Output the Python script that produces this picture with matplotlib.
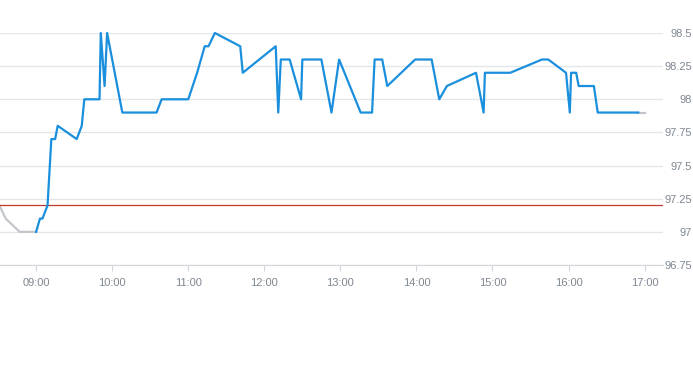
import numpy as np
from matplotlib import pyplot as plt

plt.rcParams["font.family"] = ["Liberation Sans", "DejaVu Sans"]

# times as "HH:MM", prices
pre_times = ["08:31", "08:36", "08:47", "09:00"]
pre_vals = [97.2, 97.1, 97.0, 97.0]

times = ["09:00", "09:03", "09:05", "09:09", "09:12", "09:15", "09:17", "09:32",
         "09:36", "09:38", "09:50", "09:51", "09:54", "09:56", "10:08", "10:35",
         "10:39", "11:00", "11:07", "11:13", "11:16", "11:21", "11:41", "11:43",
         "12:09", "12:11", "12:13", "12:20", "12:29", "12:30", "12:45", "12:53",
         "12:59", "13:16", "13:25", "13:27", "13:33", "13:37", "13:59", "14:12",
         "14:18", "14:24", "14:47", "14:53", "14:54", "15:14", "15:39", "15:44",
         "15:58", "16:01", "16:02", "16:06", "16:08", "16:20", "16:23", "16:55"]
vals = [97.0, 97.1, 97.1, 97.2, 97.7, 97.7, 97.8, 97.7,
        97.8, 98.0, 98.0, 98.5, 98.1, 98.5, 97.9, 97.9,
        98.0, 98.0, 98.2, 98.4, 98.4, 98.5, 98.4, 98.2,
        98.4, 97.9, 98.3, 98.3, 98.0, 98.3, 98.3, 97.9,
        98.3, 97.9, 97.9, 98.3, 98.3, 98.1, 98.3, 98.3,
        98.0, 98.1, 98.2, 97.9, 98.2, 98.2, 98.3, 98.3,
        98.2, 97.9, 98.2, 98.2, 98.1, 98.1, 97.9, 97.9]

post_times = ["16:55", "17:00"]
post_vals = [97.9, 97.9]

prev_close = 97.2

y_ticks = [96.75, 97, 97.25, 97.5, 97.75, 98, 98.25, 98.5]
y_labels = ["96.75", "97", "97.25", "97.5", "97.75", "98", "98.25", "98.5"]
x_ticks = ["09:00", "10:00", "11:00", "12:00", "13:00", "14:00", "15:00", "16:00", "17:00"]


def to_min(t):
    h, m = t.split(":")
    return int(h) * 60 + int(m)


fig = plt.figure(figsize=(6.93, 3.65), dpi=100)
ax = fig.add_axes([0, 100 / 365, 663 / 693, 232 / 365])

grid_c = "#e4e6e9"
axis_c = "#d3d6db"
text_c = "#7f8791"

ax.plot([to_min(t) for t in pre_times], pre_vals, color="#c3c7cc", lw=1.6, clip_on=False)
ax.plot([to_min(t) for t in post_times], post_vals, color="#c3c7cc", lw=1.6, clip_on=False)
ax.plot([to_min(t) for t in times], vals, color="#1a8fdd", lw=1.6, clip_on=False, zorder=3)
ax.axhline(prev_close, color="#c0392b", lw=0.9, zorder=2)

ax.set_xlim(511.5, 1034.5)
ax.set_ylim(96.75, 98.5)

ax.set_yticks(y_ticks)
ax.set_yticklabels(y_labels)
ax.yaxis.tick_right()
ax.set_xticks([to_min(t) for t in x_ticks])
ax.set_xticklabels(x_ticks)

ax.grid(axis="y", color=grid_c, lw=1)
for s in ["top", "left", "right"]:
    ax.spines[s].set_visible(False)
ax.spines["bottom"].set_color(axis_c)

ax.tick_params(axis="y", length=0, pad=21, labelsize=8, labelcolor=text_c)
for lab in ax.get_yticklabels():
    lab.set_horizontalalignment("right")
ax.tick_params(axis="x", length=4, color=axis_c, pad=5, labelsize=8, labelcolor=text_c)

plt.savefig("out.png", dpi=100)
